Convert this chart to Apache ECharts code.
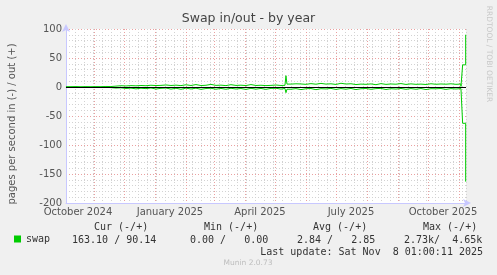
<!DOCTYPE html>
<html>
<head>
<meta charset="utf-8">
<script src="https://cdn.jsdelivr.net/npm/echarts@6/dist/echarts.min.js"></script>
<style>
  html, body { margin: 0; padding: 0; background: #f0f0f0; }
  #chart { width: 497px; height: 275px; }
</style>
</head>
<body>
<div id="chart"></div>
<script>
// ---- data ----
const dates = [
  '2024-10-04','2024-10-09','2024-10-14','2024-10-19','2024-10-24','2024-10-29',
  '2024-11-03','2024-11-08','2024-11-13','2024-11-18','2024-11-23','2024-11-28',
  '2024-12-03','2024-12-08','2024-12-13','2024-12-18','2024-12-23','2024-12-28',
  '2025-01-02','2025-01-07','2025-01-12','2025-01-17','2025-01-22','2025-01-27',
  '2025-02-01','2025-02-06','2025-02-11','2025-02-16','2025-02-21','2025-02-26',
  '2025-03-03','2025-03-08','2025-03-13','2025-03-18','2025-03-23','2025-03-28',
  '2025-04-02','2025-04-07','2025-04-12','2025-04-17','2025-04-22','2025-04-27',
  '2025-05-02','2025-05-07','2025-05-11','2025-05-12','2025-05-13','2025-05-17','2025-05-22','2025-05-27',
  '2025-06-01','2025-06-06','2025-06-11','2025-06-16','2025-06-21','2025-06-26',
  '2025-07-01','2025-07-06','2025-07-11','2025-07-16','2025-07-21','2025-07-26','2025-07-31',
  '2025-08-05','2025-08-10','2025-08-15','2025-08-20','2025-08-25','2025-08-30',
  '2025-09-04','2025-09-09','2025-09-14','2025-09-19','2025-09-24','2025-09-29',
  '2025-10-04','2025-10-09','2025-10-14','2025-10-19','2025-10-24','2025-10-29',
  '2025-11-03','2025-11-04 16:00','2025-11-05 08:00','2025-11-07 17:00','2025-11-08 01:00'
];
// swap out (+)
const outVals = [
  0.5, 0.8, 0.4, 0.6, 0.5, 0.7,
  0.6, 0.9, 0.8, 1.5, 2.2, 1.8,
  2.4, 2.0, 2.6, 2.2, 3.0, 2.5,
  2.8, 3.5, 2.6, 3.2, 2.4, 3.8,
  2.6, 4.2, 2.5, 3.0, 4.5, 2.8,
  3.2, 2.4, 4.0, 2.7, 3.1, 2.5,
  4.2, 2.6, 3.0, 2.4, 2.8, 3.4,
  2.6, 2.9, 3.0, 19.5, 5.0, 5.5, 5.2, 4.6,
  5.8, 4.8, 6.2, 5.0, 5.5, 4.4,
  6.4, 5.1, 5.6, 4.2, 5.0, 4.6, 5.3,
  4.0, 5.8, 4.5, 5.2, 4.8, 5.9,
  4.4, 5.4, 4.6, 5.0, 4.3, 5.6,
  4.7, 5.2, 4.8, 5.5, 4.6, 5.1,
  1.0, 38.2, 38.2, 90.14, 90.14
];
// swap in (-), magnitudes
const inVals = [
  0.4, 0.6, 0.5, 0.3, 0.7, 0.5,
  0.8, 0.6, 1.0, 1.8, 1.4, 2.6,
  1.9, 3.2, 2.1, 2.8, 1.7, 3.5,
  2.3, 1.8, 3.6, 2.2, 3.9, 2.0,
  3.4, 2.1, 4.0, 2.6, 2.2, 3.8,
  2.4, 3.9, 2.2, 3.5, 2.6, 4.1,
  2.3, 3.7, 2.5, 4.0, 2.4, 2.2,
  3.6, 2.5, 2.4, 9.8, 3.8, 2.8, 4.5, 3.0,
  2.6, 4.6, 2.9, 3.4, 2.4, 4.2,
  2.7, 3.8, 2.5, 4.4, 3.0, 2.6, 3.9,
  2.8, 2.4, 4.3, 2.9, 3.6, 2.5,
  4.0, 2.7, 3.9, 2.6, 4.4, 2.9,
  3.1, 2.6, 4.1, 2.8, 3.5, 2.7,
  1.0, 62.6, 62.6, 163.10, 163.10
];
const monthStarts = [
  '2024-11-01','2024-12-01','2025-01-01','2025-02-01','2025-03-01','2025-04-01',
  '2025-05-01','2025-06-01','2025-07-01','2025-08-01','2025-09-01','2025-10-01','2025-11-01'
];
const labelDates = ['2024-10-16','2025-01-16','2025-04-16','2025-07-16','2025-10-16'];
const xLabels = ['October 2024','January 2025','April 2025','July 2025','October 2025'];
const yTicks = [-200, -150, -100, -50, 0, 50, 100];
const rangeStart = '2024-10-04 01:00';
const rangeEnd = '2025-11-08 01:00';

const legendHeads = ['Cur (-/+)', 'Min (-/+)', 'Avg (-/+)', 'Max (-/+)'];
const legendVals = ['163.10 / 90.14', '0.00 /   0.00', '2.84 /   2.85', '2.73k/  4.65k'];

// ---- helpers ----
function t(s) {
  const parts = s.split(' ');
  const ymd = parts[0].split('-').map(Number);
  let h = 0, m = 0;
  if (parts[1]) { const hm = parts[1].split(':').map(Number); h = hm[0]; m = hm[1]; }
  return Date.UTC(ymd[0], ymd[1] - 1, ymd[2], h, m);
}
const T0 = t(rangeStart);
// time -> days since start of the displayed range
function day(s) { return (t(s) - T0) / 86400000; }
const labelDays = labelDates.map(day);
const xMax = day(rangeEnd);

const RED = '#eaa0a0';
const GRAY = '#d2d2d2';
const AXIS = '#c8c8ff';
const SANS = 'DejaVu Sans';
const MONO = 'DejaVu Sans Mono';

const chart = echarts.init(document.getElementById('chart'), null, { renderer: 'canvas' });

const headX = [94, 204, 313, 423];
const valX = [72, 190, 297, 404];
const graphics = [];
legendHeads.forEach((s, i) => graphics.push({
  type: 'text', x: headX[i], y: 227,
  style: { text: s, font: '10px ' + MONO, fill: '#333', align: 'left', verticalAlign: 'middle' }
}));
legendVals.forEach((s, i) => graphics.push({
  type: 'text', x: valX[i], y: 240,
  style: { text: s, font: '10px ' + MONO, fill: '#333', align: 'left', verticalAlign: 'middle' }
}));
graphics.push({
  type: 'text', x: 483, y: 252,
  style: { text: 'Last update: Sat Nov  8 01:00:11 2025', font: '10px ' + MONO, fill: '#333', align: 'right', verticalAlign: 'middle' }
});
graphics.push({
  type: 'text', x: 248, y: 263,
  style: { text: 'Munin 2.0.73', font: '7.5px ' + SANS, fill: '#bdbdbd', align: 'center', verticalAlign: 'middle' }
});
graphics.push({
  type: 'text', x: 12, y: 124, rotation: Math.PI / 2,
  style: { text: 'pages per second in (-) / out (+)', font: '10px ' + SANS, fill: '#555', align: 'center', verticalAlign: 'middle' }
});
graphics.push({
  type: 'text', x: 488.5, y: 54, rotation: -Math.PI / 2,
  style: { text: 'RRDTOOL / TOBI OETIKER', font: '7.5px ' + SANS, fill: '#c8c8c8', align: 'center', verticalAlign: 'middle' }
});

const option = {
  backgroundColor: '#f0f0f0',
  animation: false,
  title: {
    text: 'Swap in/out - by year', left: 'center', top: 12, padding: 0,
    textStyle: { fontFamily: SANS, fontSize: 12.5, fontWeight: 'normal', color: '#444' }
  },
  grid: { left: 66, top: 29, width: 400, height: 174, show: true, backgroundColor: '#ffffff', borderWidth: 0 },
  legend: {
    data: ['swap'], left: 14, top: 234, padding: 0, icon: 'rect',
    itemWidth: 7, itemHeight: 7, itemGap: 0,
    textStyle: { fontFamily: MONO, fontSize: 10, color: '#333' }
  },
  xAxis: [
    {
      type: 'value', position: 'top', min: 0, max: xMax, interval: 9,
      axisLine: { show: false }, axisTick: { show: false }, axisLabel: { show: false },
      splitLine: { show: true, lineStyle: { color: GRAY, type: [1, 2], width: 1 } }
    },
    {
      type: 'value', position: 'bottom', min: 0, max: xMax,
      axisLine: { show: true, onZero: false, lineStyle: { color: AXIS, width: 1 }, symbol: ['none', 'arrow'], symbolSize: [6, 8], symbolOffset: [0, 5] },
      axisTick: { show: false, customValues: monthStarts.map(day) },
      axisLabel: {
        customValues: labelDays, margin: 4, fontFamily: SANS, fontSize: 10, color: '#555',
        showMinLabel: true, showMaxLabel: true,
        formatter: (v) => {
          for (let i = 0; i < labelDays.length; i++) if (Math.abs(labelDays[i] - v) < 0.01) return xLabels[i];
          return '';
        }
      },
      splitLine: { show: true, lineStyle: { color: RED, type: [1, 2], width: 1 } }
    }
  ],
  yAxis: {
    type: 'value', min: yTicks[0], max: yTicks[yTicks.length - 1], interval: 50,
    axisLine: { show: true, onZero: false, lineStyle: { color: AXIS, width: 1 }, symbol: ['none', 'arrow'], symbolSize: [6, 8], symbolOffset: [0, 5] },
    axisTick: { show: false },
    axisLabel: { margin: 4, fontFamily: SANS, fontSize: 10, color: '#555' },
    splitLine: { show: true, lineStyle: { color: RED, type: [1, 2], width: 1 } },
    minorTick: { show: false, splitNumber: 5 },
    minorSplitLine: { show: true, lineStyle: { color: GRAY, type: [1, 2], width: 1 } }
  },
  series: [
    {
      name: 'swap', type: 'line', xAxisIndex: 1, step: 'end', symbol: 'none',
      data: dates.map((d, i) => [day(d), outVals[i]]),
      lineStyle: { color: '#00cc00', width: 1 }, itemStyle: { color: '#00cc00' },
      z: 3
    },
    {
      name: 'swap', type: 'line', xAxisIndex: 1, step: 'end', symbol: 'none',
      data: dates.map((d, i) => [day(d), -inVals[i]]),
      lineStyle: { color: '#00cc00', width: 1 }, itemStyle: { color: '#00cc00' },
      z: 3,
      markLine: {
        silent: true, symbol: 'none', label: { show: false }, z: 5,
        lineStyle: { color: '#000000', width: 1, type: 'solid' },
        data: [{ yAxis: 0 }]
      }
    }
  ],
  graphic: graphics
};
chart.setOption(option);
</script>
</body>
</html>
